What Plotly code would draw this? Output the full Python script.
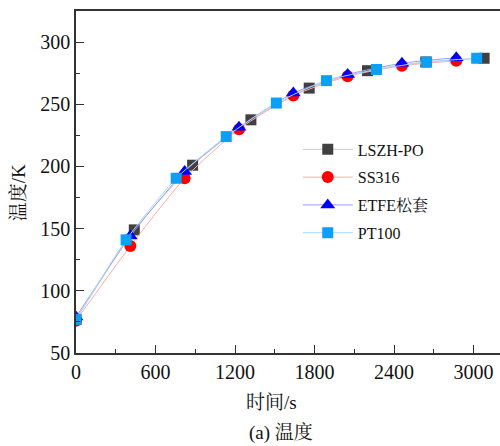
import plotly.graph_objects as go

# Temperature histories (time in s, temperature in K)
lszh_t = [0, 440, 880, 1320, 1760, 2200, 2640, 3080]
lszh_T = [77, 149, 201, 237.5, 263, 277, 284, 287]

ss316_t = [0, 410, 820, 1230, 1640, 2050, 2460, 2870]
ss316_T = [76, 136, 190.5, 230, 257, 272.5, 281, 285]

etfe_t = [0, 410, 820, 1230, 1640, 2050, 2460, 2870]
etfe_T = [79, 144, 196, 231.5, 259, 274, 283, 287.5]

pt100_t = [0, 378, 756, 1134, 1512, 1890, 2268, 2646, 3024]
pt100_T = [77, 141, 190.5, 224, 251, 269, 278, 284, 287]

x_ticks = [0, 600, 1200, 1800, 2400, 3000]
y_ticks = [50, 100, 150, 200, 250, 300]

SERIF = "Liberation Serif, Times New Roman, Noto Serif CJK SC, Noto Sans CJK SC, serif"

series = [
    ("LSZH-PO", lszh_t, lszh_T, "#404040", "#c8c8c8", "square", 11),
    ("SS316", ss316_t, ss316_T, "#ff0000", "#ffaaaa", "circle", 12),
    ("ETFE松套", etfe_t, etfe_T, "#0000ff", "#9a9aff", "triangle-up", 13),
    ("PT100", pt100_t, pt100_T, "#0aa0f5", "#a8d8ff", "square", 11),
]

fig = go.Figure()
for name, t, T, mc, lc, sym, sz in series:
    fig.add_trace(go.Scatter(
        x=t, y=T, name=name, legendgroup=name, mode="lines+markers",
        line=dict(color=lc, width=1, shape="spline", smoothing=0.6),
        marker=dict(symbol=sym, size=sz, color=mc, line=dict(width=0)),
    ))

axis_common = dict(
    showgrid=False, zeroline=False, showline=True, linecolor="#333333",
    linewidth=1.5, ticks="inside", tickcolor="#333333", tickwidth=1.2,
    ticklen=8, tickfont=dict(family=SERIF, size=20, color="#111111"),
)

fig.update_xaxes(
    range=[0, 3200], tickvals=x_ticks, mirror=True,
    minor=dict(ticks="inside", ticklen=4, dtick=300, tick0=0,
               tickcolor="#333333", tickwidth=1.2),
    **axis_common,
)
fig.update_yaxes(
    range=[50, 325], tickvals=y_ticks,
    minor=dict(ticks="inside", ticklen=4, dtick=25, tick0=50,
               tickcolor="#333333", tickwidth=1.2),
    **axis_common,
)

fig.update_layout(
    width=500, height=446,
    margin=dict(l=76, r=0, t=11, b=93),
    plot_bgcolor="white", paper_bgcolor="white",
    showlegend=True,
    legend=dict(
        x=0.523, y=0.645, xanchor="left", yanchor="top",
        bgcolor="rgba(0,0,0,0)", borderwidth=0,
        font=dict(family=SERIF, size=16, color="#111111"),
        itemwidth=50, tracegroupgap=4,
    ),
    annotations=[
        dict(text="时间/s", xref="paper", yref="paper", x=0.46, y=-0.146,
             xanchor="center", yanchor="middle", showarrow=False,
             font=dict(family=SERIF, size=19, color="#111111")),
        dict(text="温度/K", xref="paper", yref="paper", x=-0.137, y=0.47,
             xanchor="center", yanchor="middle", showarrow=False, textangle=-90,
             font=dict(family=SERIF, size=19, color="#111111")),
        dict(text="(a) 温度", xref="paper", yref="paper", x=0.483, y=-0.234,
             xanchor="center", yanchor="middle", showarrow=False,
             font=dict(family=SERIF, size=19, color="#111111")),
    ],
)

fig.write_html("out.html")
